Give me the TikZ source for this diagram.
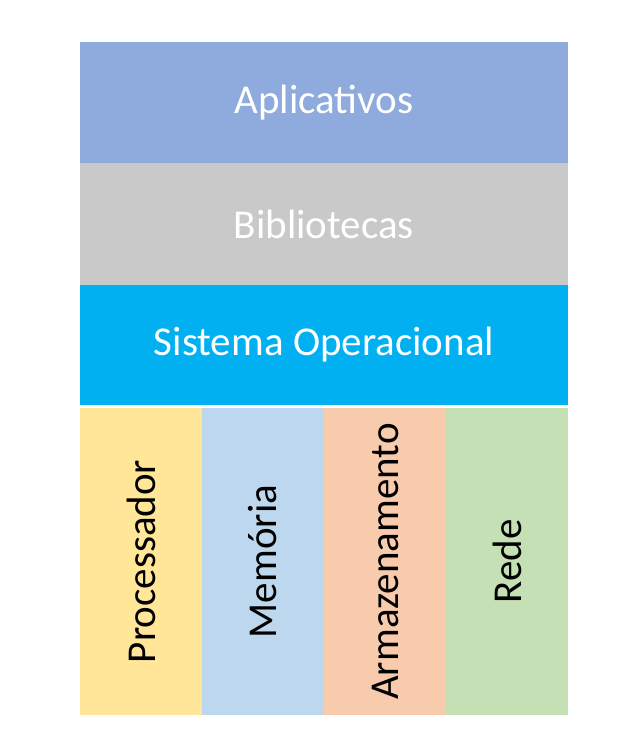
\documentclass[tikz,border=0pt]{standalone}
\usepackage{fontspec}
\setmainfont{Carlito}
\usepackage{xcolor}
\definecolor{apps}{HTML}{8FAADC}
\definecolor{libs}{HTML}{C9C9C9}
\definecolor{sysop}{HTML}{00B0F0}
\definecolor{cpu}{HTML}{FFE699}
\definecolor{mem}{HTML}{BDD7EE}
\definecolor{disk}{HTML}{F8CBAD}
\definecolor{net}{HTML}{C5E0B4}
\begin{document}
\begin{tikzpicture}[x=1pt, y=-1pt,
    layer/.style={minimum width=487pt, minimum height=120pt, inner sep=0pt, line width=1.2pt, text=white, font=\fontsize{41}{46}\selectfont},
    hw/.style={minimum width=121pt, minimum height=306pt, inner sep=0pt, line width=1.2pt},
    hwlabel/.style={rotate=90, font=\fontsize{41}{46}\selectfont}]
    \useasboundingbox (0,0) rectangle (638,741);
    \node[layer, fill=apps, draw=apps] (apps) at (324, 102.5) {Aplicativos};
    \node[layer, fill=libs, draw=libs] (libs) at (324, 224) {Bibliotecas};
    \node[layer, fill=sysop, draw=sysop, minimum height=119pt] (so) at (324, 345) {Sistema Operacional};

    \node[hw, fill=cpu, draw=cpu] (cpu) at (141, 561.5) {};
    \node[hw, fill=mem, draw=mem] (mem) at (263, 561.5) {};
    \node[hw, fill=disk, draw=disk] (disk) at (385, 561.5) {};
    \node[hw, fill=net, draw=net] (net) at (507, 561.5) {};
    \node[hwlabel] (cpulbl) at (cpu) {Processador};
    \node[hwlabel] (memlbl) at (mem) {Memória};
    \node[hwlabel] (disklbl) at (disk) {Armazenamento};
    \node[hwlabel] (netlbl) at (net) {Rede};
\end{tikzpicture}
\end{document}
